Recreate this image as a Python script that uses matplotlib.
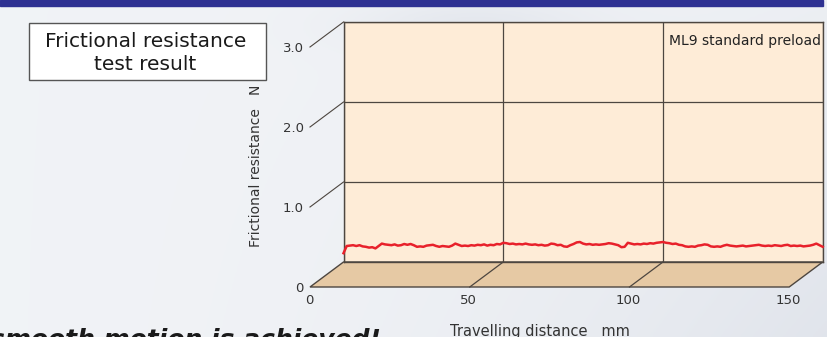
import numpy as np
import matplotlib
matplotlib.use("Agg")
import matplotlib.pyplot as plt
from matplotlib.patches import Polygon, Rectangle

plt.rcParams["font.family"] = ["DejaVu Sans"]

# travelling distance (mm) and frictional resistance (N)
DISTANCE = np.arange(0, 151, 1)
RESISTANCE = [
    0.11, 0.20, 0.205, 0.21, 0.20, 0.21, 0.195, 0.19, 0.18, 0.185,
    0.17, 0.20, 0.23, 0.22, 0.215, 0.21, 0.22, 0.205, 0.21, 0.225,
    0.215, 0.225, 0.21, 0.19, 0.195, 0.19, 0.205, 0.21, 0.215, 0.20,
    0.19, 0.20, 0.195, 0.19, 0.205, 0.23, 0.215, 0.20, 0.205, 0.20,
    0.21, 0.205, 0.215, 0.21, 0.22, 0.205, 0.215, 0.21, 0.225, 0.22,
    0.24, 0.235, 0.225, 0.23, 0.22, 0.225, 0.22, 0.23, 0.22, 0.215,
    0.22, 0.21, 0.215, 0.205, 0.21, 0.23, 0.225, 0.21, 0.215, 0.195,
    0.19, 0.21, 0.225, 0.245, 0.25, 0.23, 0.22, 0.225, 0.215, 0.22,
    0.215, 0.22, 0.225, 0.235, 0.23, 0.22, 0.21, 0.185, 0.19, 0.24,
    0.23, 0.22, 0.225, 0.22, 0.23, 0.225, 0.235, 0.23, 0.24, 0.245,
    0.25, 0.24, 0.235, 0.225, 0.23, 0.215, 0.21, 0.195, 0.19, 0.195,
    0.19, 0.205, 0.21, 0.22, 0.215, 0.195, 0.19, 0.195, 0.19, 0.205,
    0.215, 0.205, 0.20, 0.195, 0.20, 0.205, 0.195, 0.20, 0.205, 0.21,
    0.215, 0.205, 0.20, 0.205, 0.20, 0.21, 0.205, 0.20, 0.21, 0.215,
    0.20, 0.205, 0.20, 0.205, 0.195, 0.20, 0.205, 0.215, 0.23, 0.21,
    0.19,
]

X_TICKS = [0, 50, 100, 150]
X_LABELS = ["0", "50", "100", "150"]
Y_TICKS = [0, 1, 2, 3]
Y_LABELS = ["0", "1.0", "2.0", "3.0"]

W, H = 827, 337
DEPTH_PX = (-33.5, -25.0)   # back wall -> front edge of the floor
LINE = "#4d4640"
WALL = "#feecd7"
FLOOR = "#e6c9a4"
RED = "#e8212b"

fig = plt.figure(figsize=(W / 100, H / 100), dpi=100)

# soft grey-blue backdrop
bg = fig.add_axes([0, 0, 1, 1], zorder=-10)
gx, gy = np.meshgrid(np.linspace(0, 1, 300), np.linspace(0, 1, 120))
t = 0.55 * gx ** 2 * (0.3 + 0.7 * gy)
t += 0.35 * np.exp(-((gx - 0.57) / 0.14) ** 2 - ((gy - 0.07) / 0.08) ** 2)
t = np.clip(t, 0, 1)
light = np.array([0.945, 0.953, 0.966])
dark = np.array([0.83, 0.85, 0.89])
bg.imshow(light + t[..., None] * (dark - light), aspect="auto",
          extent=[0, 1, 0, 1], origin="upper")
bg.axis("off")

# navy band at the top
fig.add_artist(Rectangle((0, 1 - 6 / H), 823 / W, 6 / H,
                         transform=fig.transFigure, color="#2e3192"))

# back wall
ax = fig.add_axes([343.5 / W, 1 - 262 / H, 479.2 / W, 240 / H])
ax.set_facecolor(WALL)
ax.set_xlim(0, 150)
ax.set_ylim(0, 3)
ax.set_xticks(X_TICKS)
ax.set_yticks(Y_TICKS)
ax.tick_params(length=0, labelbottom=False, labelleft=False)
ax.grid(True, color=LINE, linewidth=0.9)
ax.set_axisbelow(True)
for s in ax.spines.values():
    s.set_color(LINE)
    s.set_linewidth(1)

# depth offset in data units
dx = DEPTH_PX[0] / (ax.bbox.width / 150)
dy = DEPTH_PX[1] / (ax.bbox.height / 3)

ax.add_patch(Polygon([(0, 0), (150, 0), (150 + dx, dy), (dx, dy)], closed=True,
                     facecolor=FLOOR, edgecolor=LINE, linewidth=1,
                     clip_on=False, zorder=1))
for x in X_TICKS[1:-1]:
    ax.plot([x, x + dx], [0, dy], color=LINE, linewidth=0.9, clip_on=False)
for y in Y_TICKS[1:]:
    ax.plot([0, dx], [y, y + dy], color=LINE, linewidth=0.8, clip_on=False)

for y, lab in zip(Y_TICKS, Y_LABELS):
    ax.annotate(lab, xy=(dx, y + dy), xytext=(-6, -1.5),
                textcoords="offset pixels", ha="right", va="center",
                fontsize=9.5, color="#333333", annotation_clip=False)
for x, lab in zip(X_TICKS, X_LABELS):
    ax.annotate(lab, xy=(x + dx, dy), xytext=(-1, -14),
                textcoords="offset pixels", ha="center", va="center",
                fontsize=9.5, color="#333333", annotation_clip=False)

ax.plot(DISTANCE, RESISTANCE, color=RED, linewidth=1.8, zorder=3,
        clip_on=False)

ax.text(0.679, 0.921, "ML9 standard preload", transform=ax.transAxes,
        fontsize=10, va="center", ha="left", color="#222222")

# title box
fig.add_artist(Rectangle((29.3 / W, 1 - 80 / H), (265.7 - 29.3) / W,
                         (80 - 23.3) / H, transform=fig.transFigure,
                         facecolor="white", edgecolor="#555555", linewidth=1))
fig.text(145.5 / W, 1 - 41.7 / H, "Frictional resistance", ha="center",
         va="center", fontsize=14.5, color="#1a1a1a")
fig.text(145.5 / W, 1 - 65 / H, "test result", ha="center",
         va="center", fontsize=14.5, color="#1a1a1a")

fig.text(256.5 / W, 1 - 166 / H, "Frictional resistance   N", rotation=90,
         ha="center", va="center", fontsize=10, color="#333333")
fig.text(540 / W, 1 - 331.5 / H, "Travelling distance   mm", ha="center",
         va="center", fontsize=10.5, color="#333333")

fig.text(-10 / W, 1 - 347 / H, "smooth motion is achieved!", fontsize=18,
         fontweight="bold", fontstyle="italic", ha="left", va="baseline",
         color="#1a1a1a")

fig.savefig("out.png", dpi=100)
plt.close(fig)
